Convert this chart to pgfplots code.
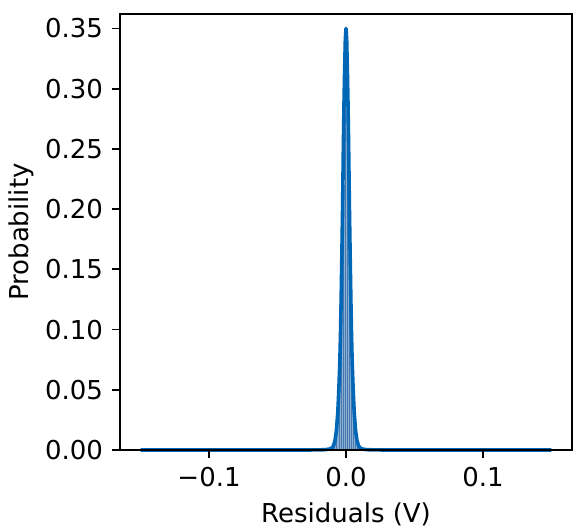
\documentclass[border=0pt]{standalone}
\usepackage{fontspec}
\setmainfont{DejaVu Sans}
\usepackage{pgfplots}
\pgfplotsset{compat=1.18}

\definecolor{kdeblue}{RGB}{0,102,182}
\definecolor{barfill}{RGB}{140,175,212}
\definecolor{baredge}{RGB}{70,120,175}

\begin{document}
\fontsize{13}{15}\selectfont
\begin{tikzpicture}
\begin{axis}[
    scale only axis,
    width=226pt,
    height=218pt,
    xmin=-0.165, xmax=0.165,
    ymin=0, ymax=0.362,
    xtick={-0.1,0,0.1},
    xticklabels={−0.1,0.0,0.1},
    ytick={0,0.05,0.10,0.15,0.20,0.25,0.30,0.35},
    yticklabel style={/pgf/number format/fixed,/pgf/number format/fixed zerofill,/pgf/number format/precision=2},
    /pgf/number format/assume math mode=true,
    tick align=outside,
    tick pos=left,
    major tick length=4pt,
    every tick/.style={black,line width=0.9pt},
    axis line style={line width=0.9pt},
    xlabel={Residuals (V)},
    ylabel={Probability},
    xlabel style={at={(axis description cs:0.5,-0.148)}, anchor=center},
    ylabel style={at={(axis description cs:-0.219,0.5)}, anchor=center},
    tick label style={font=\fontsize{13}{15}\selectfont},
    label style={font=\fontsize{13}{15}\selectfont},
    clip=false,
    axis on top,
]
% histogram bins
\addplot[ybar interval, fill=barfill, draw=baredge, line width=0.3pt] coordinates {
    (-0.00975, 0.003)
    (-0.00825, 0.008)
    (-0.00675, 0.022)
    (-0.00525, 0.055)
    (-0.00375, 0.125)
    (-0.00225, 0.220)
    (-0.00075, 0.330)
    (0.00075, 0.220)
    (0.00225, 0.125)
    (0.00375, 0.055)
    (0.00525, 0.022)
    (0.00675, 0.008)
    (0.00825, 0.003)
    (0.00975, 0.003)
};
% kde curve
\addplot[kdeblue, line width=1.8pt, line join=round] coordinates {
    (-0.150, 0.0000)
    (-0.030, 0.0000)
    (-0.020, 0.0001)
    (-0.015, 0.0003)
    (-0.012, 0.0008)
    (-0.010, 0.0020)
    (-0.009, 0.0040)
    (-0.008, 0.0080)
    (-0.007, 0.0160)
    (-0.006, 0.0310)
    (-0.0055, 0.0430)
    (-0.005, 0.0570)
    (-0.0045, 0.0730)
    (-0.004, 0.0970)
    (-0.0035, 0.1280)
    (-0.003, 0.1630)
    (-0.0025, 0.2000)
    (-0.002, 0.2450)
    (-0.0015, 0.2850)
    (-0.001, 0.3150)
    (-0.0005, 0.3400)
    (0.000, 0.3500)
    (0.0005, 0.3400)
    (0.001, 0.3150)
    (0.0015, 0.2850)
    (0.002, 0.2450)
    (0.0025, 0.2000)
    (0.003, 0.1630)
    (0.0035, 0.1280)
    (0.004, 0.0970)
    (0.0045, 0.0730)
    (0.005, 0.0570)
    (0.0055, 0.0430)
    (0.006, 0.0310)
    (0.007, 0.0160)
    (0.008, 0.0080)
    (0.009, 0.0040)
    (0.010, 0.0020)
    (0.012, 0.0008)
    (0.015, 0.0003)
    (0.020, 0.0001)
    (0.030, 0.0000)
    (0.150, 0.0000)
};
\end{axis}
\pgfresetboundingbox
\path ([xshift=-60pt,yshift=-39.5pt]current axis.south west) rectangle ([xshift=2pt,yshift=7pt]current axis.north east);
\end{tikzpicture}
\end{document}
